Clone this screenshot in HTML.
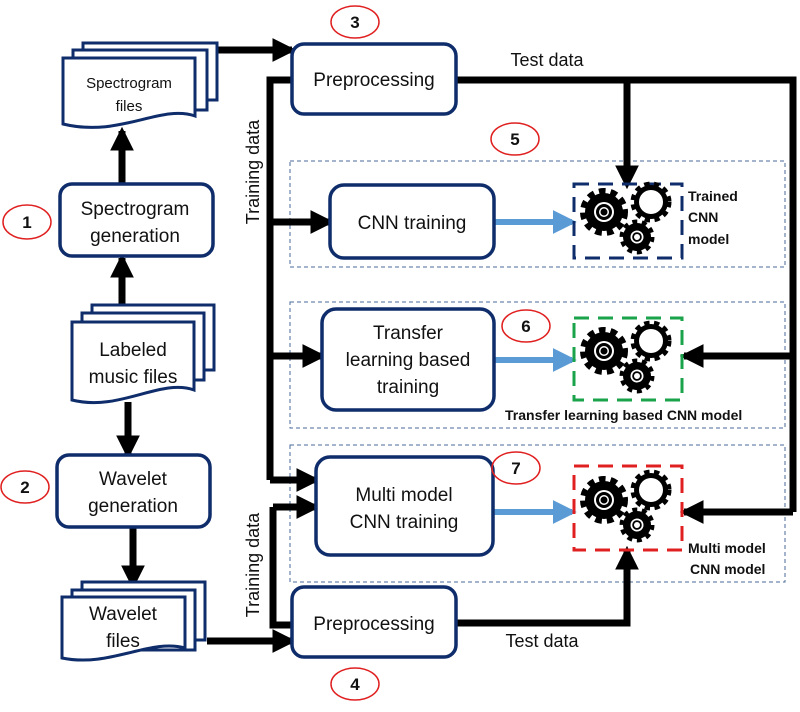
<!DOCTYPE html>
<html><head><meta charset="utf-8"><style>
html,body{margin:0;padding:0;background:#fff}
svg{display:block}
text{font-family:"Liberation Sans",sans-serif;fill:#111}
</style></head><body>
<svg width="800" height="712" viewBox="0 0 800 712" xmlns="http://www.w3.org/2000/svg">
<defs>
<marker id="ah" markerWidth="3.4" markerHeight="3.4" refX="2.8" refY="1.7" orient="auto" markerUnits="strokeWidth"><path d="M0,0 L3.4,1.7 L0,3.4 Z" fill="#000"/></marker>
<marker id="bh" markerWidth="4" markerHeight="4" refX="3.2" refY="2" orient="auto" markerUnits="strokeWidth"><path d="M0,0 L4,2 L0,4 Z" fill="#5b9bd5"/></marker>
<g id="gears">
  <circle cx="0" cy="0" r="19" fill="#000" stroke="#000" stroke-width="10" stroke-dasharray="6 4.6"/>
  <circle cx="0" cy="0" r="10" fill="#fff"/><circle cx="0" cy="0" r="8" fill="#000"/><circle cx="0" cy="0" r="5" fill="#fff"/><circle cx="0" cy="0" r="3.5" fill="#000"/>
  <circle cx="47" cy="-10" r="17" fill="#000" stroke="#000" stroke-width="7" stroke-dasharray="5 4.2"/>
  <circle cx="47" cy="-10" r="12" fill="#fff"/>
  <circle cx="33" cy="25" r="14" fill="#000" stroke="#000" stroke-width="7" stroke-dasharray="4.5 4.3"/>
  <circle cx="33" cy="25" r="6.5" fill="#fff"/><circle cx="33" cy="25" r="4.8" fill="#000"/><circle cx="33" cy="25" r="3" fill="#fff"/>
</g>
</defs>

<g fill="none" stroke="#4a6a9a" stroke-width="1" stroke-dasharray="4 3">
<rect x="290" y="161" width="495" height="106"/>
<rect x="290" y="302" width="495" height="126"/>
<rect x="290" y="445" width="495" height="137"/>
</g>

<g stroke="#000" stroke-width="7" fill="none">
<line x1="217" y1="50" x2="292" y2="50" marker-end="url(#ah)"/>
<line x1="122" y1="184" x2="122" y2="131" marker-end="url(#ah)"/>
<line x1="122" y1="305" x2="122" y2="258" marker-end="url(#ah)"/>
<line x1="128" y1="402" x2="128" y2="455" marker-end="url(#ah)"/>
<line x1="133" y1="527" x2="133" y2="585" marker-end="url(#ah)"/>
<line x1="207" y1="641" x2="292" y2="641" marker-end="url(#ah)"/>
<polyline points="292,80 270,80 270,480"/>
<line x1="270" y1="222" x2="330" y2="222" marker-end="url(#ah)"/>
<line x1="270" y1="356" x2="322" y2="356" marker-end="url(#ah)"/>
<line x1="270" y1="480" x2="316" y2="480" marker-end="url(#ah)"/>
<polyline points="292,625 273,625 273,507"/>
<line x1="273" y1="507" x2="316" y2="507" marker-end="url(#ah)"/>
<polyline points="456,80 793,80 793,512"/>
<line x1="627" y1="80" x2="627" y2="185" marker-end="url(#ah)"/>
<line x1="793" y1="356" x2="684" y2="356" marker-end="url(#ah)"/>
<line x1="793" y1="512" x2="684" y2="512" marker-end="url(#ah)"/>
<polyline points="456,623 627,623 627,550" marker-end="url(#ah)"/>
</g>
<g stroke="#5b9bd5" stroke-width="6">
<line x1="494" y1="222" x2="572" y2="222" marker-end="url(#bh)"/>
<line x1="494" y1="360" x2="572" y2="360" marker-end="url(#bh)"/>
<line x1="494" y1="512" x2="572" y2="512" marker-end="url(#bh)"/>
</g>

<g fill="#fff" stroke="#0f2d6b" stroke-width="3">
<rect x="83" y="43" width="134" height="57"/>
<rect x="73" y="50" width="134" height="60"/>
<path d="M63 58 H195 V116 C160 104 120 138 63 124 Z"/>
<rect x="92" y="305" width="122" height="65"/>
<rect x="82" y="313" width="122" height="67"/>
<path d="M72 322 H194 V390 C160 378 120 412 72 400 Z"/>
<rect x="82" y="582" width="123" height="58"/>
<rect x="72" y="590" width="123" height="60"/>
<path d="M62 597 H185 V648 C150 638 110 668 62 658 Z"/>
</g>
<g fill="#fff" stroke="#0f2d6b" stroke-width="3.5">
<rect x="60" y="184" width="153" height="72" rx="12"/>
<rect x="57" y="455" width="153" height="72" rx="12"/>
<rect x="292" y="44" width="164" height="70" rx="12"/>
<rect x="292" y="587" width="164" height="70" rx="12"/>
<rect x="330" y="185" width="164" height="73" rx="14"/>
<rect x="322" y="309" width="172" height="101" rx="14"/>
<rect x="316" y="457" width="177" height="98" rx="14"/>
</g>

<rect x="574" y="184" width="108" height="74" fill="none" stroke="#0f2d6b" stroke-width="3" stroke-dasharray="15 9"/>
<rect x="574" y="318" width="108" height="82" fill="none" stroke="#1aa34a" stroke-width="3" stroke-dasharray="15 9"/>
<rect x="574" y="466" width="108" height="84" fill="none" stroke="#e02020" stroke-width="3" stroke-dasharray="15 9"/>
<use href="#gears" x="604" y="212"/>
<use href="#gears" x="604" y="351"/>
<use href="#gears" x="604" y="500"/>

<g fill="none" stroke="#e02020" stroke-width="1.5">
<ellipse cx="355" cy="22" rx="24" ry="16"/>
<ellipse cx="27" cy="222" rx="24" ry="17"/>
<ellipse cx="515" cy="139" rx="24" ry="16"/>
<ellipse cx="526" cy="326" rx="24" ry="16"/>
<ellipse cx="25" cy="487" rx="24" ry="16"/>
<ellipse cx="516" cy="468" rx="24" ry="16"/>
<ellipse cx="355" cy="684" rx="24" ry="16"/>
</g>
<g font-weight="bold" font-size="17" text-anchor="middle">
<text x="355" y="28">3</text><text x="27" y="228">1</text><text x="515" y="145">5</text>
<text x="526" y="332">6</text><text x="25" y="493">2</text><text x="516" y="474">7</text><text x="355" y="690">4</text>
</g>

<g font-size="19" text-anchor="middle">
<text x="135" y="215">Spectrogram</text><text x="135" y="242">generation</text>
<text x="133" y="356">Labeled</text><text x="133" y="383">music files</text>
<text x="133" y="485">Wavelet</text><text x="133" y="512">generation</text>
<text x="123" y="620">Wavelet</text><text x="123" y="647">files</text>
<text x="374" y="86">Preprocessing</text>
<text x="374" y="630">Preprocessing</text>
<text x="412" y="229">CNN training</text>
<text x="408" y="339">Transfer</text><text x="408" y="366">learning based</text><text x="408" y="393">training</text>
<text x="404" y="501">Multi model</text><text x="404" y="528">CNN training</text>
<text x="547" y="66" font-size="18">Test data</text>
<text x="542" y="647" font-size="18">Test data</text>
</g>
<g font-size="15" text-anchor="middle">
<text x="129" y="88">Spectrogram</text><text x="129" y="111">files</text>
</g>
<text x="262" y="172" font-size="18" text-anchor="middle" transform="rotate(-90 262 172)" dy="-3">Training data</text>
<text x="262" y="565" font-size="18" text-anchor="middle" transform="rotate(-90 262 565)" dy="-3">Training data</text>
<g font-size="14" font-weight="bold">
<text x="688" y="201">Trained</text><text x="688" y="222">CNN</text><text x="688" y="244">model</text>
<text x="505" y="420">Transfer learning based CNN model</text>
<text x="688" y="553">Multi model</text><text x="690" y="574">CNN model</text>
</g>
</svg>
</body></html>
